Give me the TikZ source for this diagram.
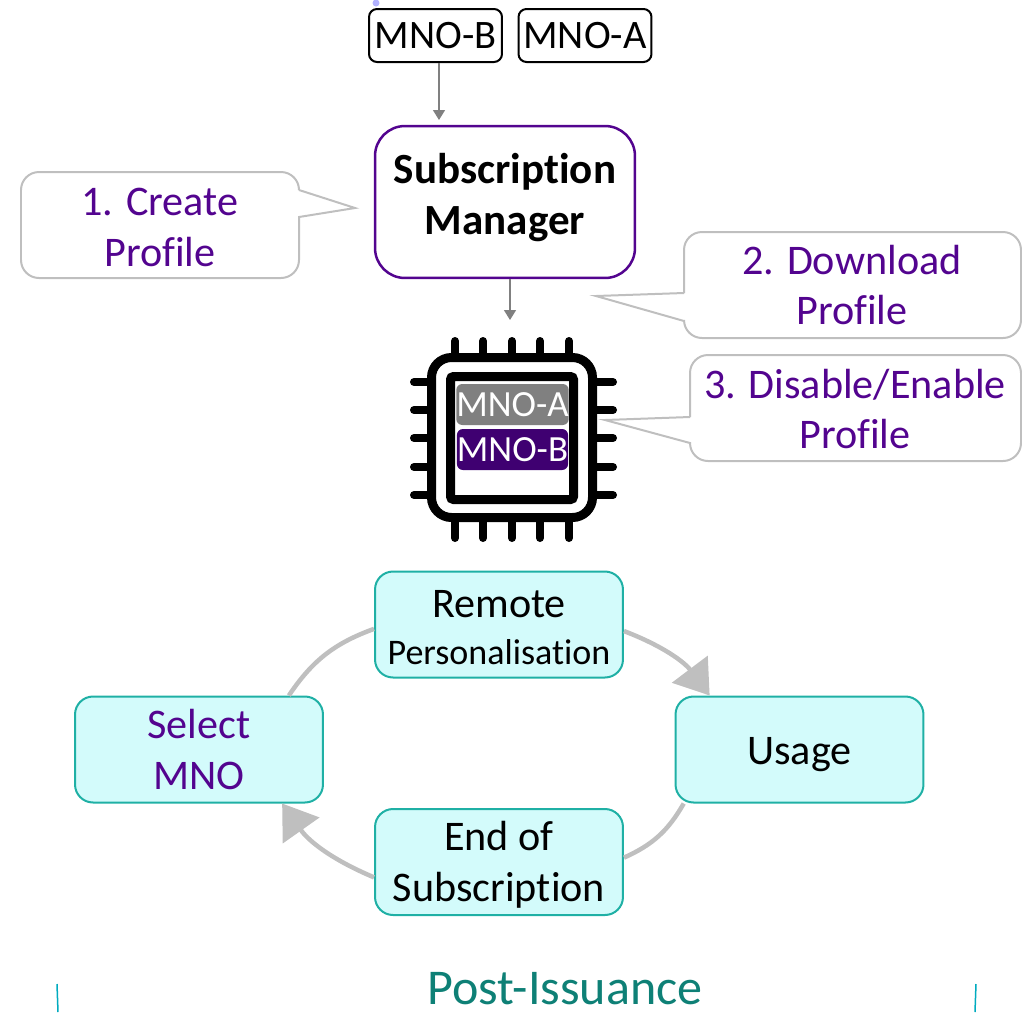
\documentclass[tikz,border=0pt]{standalone}
\usepackage{fontspec}
\setmainfont[Ligatures=NoCommon]{Carlito}
\usetikzlibrary{arrows.meta}
\definecolor{plum}{HTML}{53048F}
\definecolor{deepplum}{HTML}{3F0071}
\definecolor{aqua}{HTML}{D3FBFB}
\definecolor{aqualine}{HTML}{1FB0A5}
\definecolor{seagreen}{HTML}{0E8076}
\tikzstyle{operator}=[draw=black, line width=0.04cm, rounded corners=0.16cm, minimum width=2.66cm, minimum height=1.06cm, inner sep=0pt, font=\fontsize{23}{29}\selectfont]
\tikzstyle{manager}=[draw=plum, line width=0.05cm, rounded corners=0.6cm, minimum width=5.2cm, minimum height=3.04cm, inner sep=0pt, align=center, text depth=9pt, font=\fontsize{24.5}{29}\selectfont\bfseries]
\tikzstyle{bubble}=[inner sep=0pt, align=center, text=plum, font=\fontsize{24}{29}\selectfont]
\tikzstyle{bubbleline}=[draw=black!25, line width=0.04cm]
\tikzstyle{profile}=[rounded corners=0.12cm, minimum width=2.22cm, minimum height=0.82cm, inner sep=0pt, text=white, font=\fontsize{21}{25}\selectfont]
\tikzstyle{stage}=[draw=aqualine, fill=aqua, line width=0.04cm, rounded corners=0.36cm, minimum width=4.96cm, minimum height=2.12cm, inner sep=0pt, align=center, font=\fontsize{24}{29}\selectfont]
\tikzset{textdrop/.style={execute at begin node={\rule{0pt}{#1}}}}
\tikzstyle{feed}=[draw=black!50, line width=0.03cm, -{Triangle[length=0.2cm, width=0.24cm]}]
\tikzstyle{cycleline}=[draw=black!25, line width=0.09cm]
\newcommand{\operator}{\node[operator]}
\newcommand{\bubble}{\node[bubble]}
\newcommand{\stage}{\node[stage]}

\begin{document}
\begin{tikzpicture}[x=0.02cm, y=-0.02cm,
            every edge/.style={draw, cycleline}
        ]
            \useasboundingbox (0,0) rectangle (1022,1012);
            \fill[blue!30] (376,3) circle (0.07cm);

            \operator (mnob) at (435.5,35.5) {MNO-B};
            \operator (mnoa) at (585,35.5) {MNO-A};
            \node[manager] (sm) at (505,202) {Subscription\\Manager};
            \coordinate (smin) at (439,120);
            \coordinate (smout) at (510,320);
            \draw[feed] (mnob.south -| smin) -- (smin);
            \draw[feed] (sm.south -| smout) -- (smout);

            % callouts
            \coordinate (tip1) at (355,208);
            \coordinate (tip2) at (596,296);
            \coordinate (tip3) at (605,420);
            \draw[bubbleline] (299,190) -- (tip1) -- (299,217) [rounded corners=0.36cm] -- (299,278) -- (21,278) -- (21,172) -- (299,172) -- (299,190);
            \draw[bubbleline] (684,293) -- (tip2) -- (684,321) [rounded corners=0.36cm] -- (684,338) -- (1021,338) -- (1021,232) -- (684,232) -- (684,293);
            \draw[bubbleline] (690,417) -- (tip3) -- (690,443) [rounded corners=0.36cm] -- (690,461) -- (1021,461) -- (1021,355) -- (690,355) -- (690,417);
            \bubble (create) at (160,227) {1. Create\\Profile};
            \bubble (download) at (852,285) {2. Download\\Profile};
            \bubble (enable) at (855,409) {3. Disable/Enable\\Profile};

            % chip
            \foreach \x in {455,483,512,540,569} {
                \draw[line width=0.16cm, line cap=round] (\x,341) -- (\x,538);
            }
            \foreach \y in {382,410,438,467,495} {
                \draw[line width=0.16cm, line cap=round] (414,\y) -- (613,\y);
            }
            \draw[fill=white, line width=0.18cm, rounded corners=0.4cm] (431.5,357.5) rectangle (592.5,517.5);
            \draw[line width=0.18cm, rounded corners=0.06cm] (450.5,376.5) rectangle (573.5,499.5);
            \node[profile, fill=black!50] (slota) at (512.5,404.5) {MNO-A};
            \node[profile, fill=deepplum] (slotb) at (512.5,449.5) {MNO-B};

            % life cycle
            \stage (remote) at (499,624.5) [textdrop=46pt] {Remote\\[-2pt]{\fontsize{20.5}{23}\selectfont Personalisation}};
            \stage (usage) at (799.5,749.5) [textdrop=21pt] {Usage};
            \stage (endsub) at (499,862) [textdrop=49pt] {End of\\Subscription};
            \stage (select) at (199,749.5) [text=plum] {Select\\MNO};
        \path
                (select.31) edge[bend left=18] (remote.182)
                (usage.205) edge[bend left=18] (endsub.2)
                (remote.-3) edge[bend left=16, -{Triangle[length=0.66cm, width=0.88cm]}] (usage.149)
                (endsub.187) edge[bend left=16, -{Triangle[length=0.66cm, width=0.88cm]}] (select.-33)
            ;

            \node[anchor=base, text=seagreen, inner sep=0pt, font=\fontsize{28.5}{32}\selectfont] (post) at (565,1004) {Post-Issuance};
            \draw[cyan!70!green, line width=0.03cm] (57,984) -- (58,1012);
            \draw[cyan!70!green, line width=0.03cm] (976,984) -- (975,1012);
        \end{tikzpicture}
\end{document}
